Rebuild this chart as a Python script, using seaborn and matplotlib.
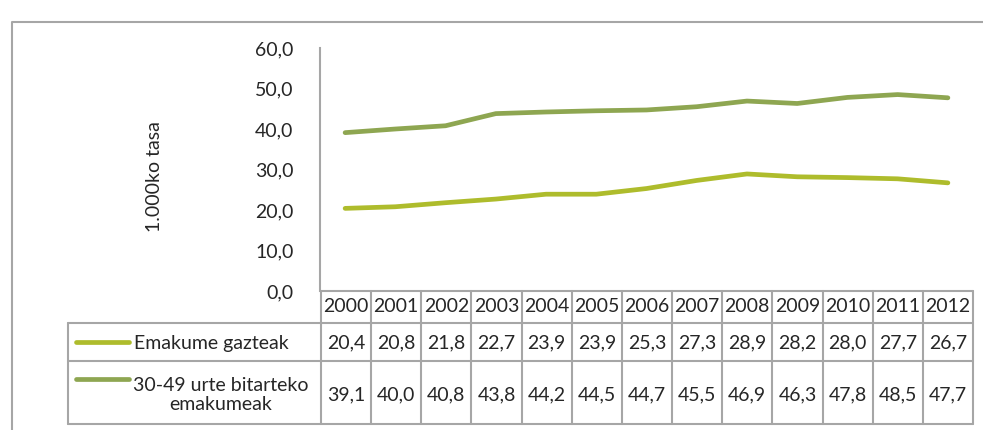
import matplotlib
matplotlib.use('Agg')
import numpy as np
import pandas as pd
import seaborn as sns
import matplotlib.pyplot as plt

# Data
years = ['2000', '2001', '2002', '2003', '2004', '2005', '2006',
         '2007', '2008', '2009', '2010', '2011', '2012']
young = [20.4, 20.8, 21.8, 22.7, 23.9, 23.9, 25.3, 27.3, 28.9, 28.2, 28.0, 27.7, 26.7]
middle = [39.1, 40.0, 40.8, 43.8, 44.2, 44.5, 44.7, 45.5, 46.9, 46.3, 47.8, 48.5, 47.7]
series_names = ['Emakume gazteak', '30-49 urte bitarteko\nemakumeak']
colors = ['#AEBC2C', '#8EA651']
y_ticks = [0, 10, 20, 30, 40, 50, 60]

sns.set_style('white')
plt.rcParams['font.family'] = ['Lato', 'DejaVu Sans']

W, H = 983, 430
fig = plt.figure(figsize=(W / 100, H / 100), dpi=100)


def px(l, t, r, b):
    return [l / W, 1 - b / H, (r - l) / W, (b - t) / H]


grey = '#A6A6A6'
fsize = 14

# main chart
ax = fig.add_axes(px(320, 48, 973, 291))
df = pd.DataFrame({'pos': np.arange(len(years)), series_names[0]: young, series_names[1]: middle})
df = df.melt(id_vars='pos', var_name='series', value_name='value')
sns.lineplot(data=df, x='pos', y='value', hue='series', palette=colors, linewidth=3.4,
             solid_capstyle='round', legend=False, ax=ax)
ax.set_xlim(-0.5, len(years) - 0.5)
ax.set_ylim(0, 60)
ax.set_yticks(y_ticks)
ax.set_yticklabels([f'{v:.1f}'.replace('.', ',') for v in y_ticks], fontsize=fsize)
ax.set_xticks([])
ax.set_xlabel('')
ax.set_ylabel('1.000ko tasa', fontsize=fsize, labelpad=0)
ax.yaxis.set_label_coords(-0.24, 0.47)
ax.tick_params(axis='y', length=0, pad=19)
for s in ['top', 'right', 'bottom']:
    ax.spines[s].set_visible(False)
ax.spines['left'].set_color(grey)
ax.spines['left'].set_linewidth(1.5)
ax.patch.set_alpha(0)

# overlay for the data table and frame
ov = fig.add_axes([0, 0, 1, 1], zorder=-1)
ov.set_xlim(0, W)
ov.set_ylim(H, 0)
ov.axis('off')

# outer frame
ov.plot([12, 12, W + 5], [H + 5, 22, 22], color=grey, lw=1.5)

edges = np.linspace(321, 973, len(years) + 1)
rows = [291, 323, 361, 424]
lw = 1.5
ov.plot([edges[0], edges[-1]], [rows[0], rows[0]], color=grey, lw=lw)
for y in rows[1:]:
    ov.plot([68, edges[-1]], [y, y], color=grey, lw=lw)
for x in edges:
    ov.plot([x, x], [rows[0], rows[-1]], color=grey, lw=lw)
ov.plot([68, 68], [rows[1], rows[-1]], color=grey, lw=lw)

centers = (edges[:-1] + edges[1:]) / 2
for i, yr in enumerate(years):
    ov.text(centers[i], 307, yr, ha='center', va='center', fontsize=fsize)
    ov.text(centers[i], 343, f'{young[i]:.1f}'.replace('.', ','), ha='center', va='center', fontsize=fsize)
    ov.text(centers[i], 395, f'{middle[i]:.1f}'.replace('.', ','), ha='center', va='center', fontsize=fsize)

# legend keys inside the table
ov.plot([76, 129], [342, 342], color=colors[0], lw=3.4, solid_capstyle='round')
ov.plot([76, 129], [379, 379], color=colors[1], lw=3.4, solid_capstyle='round')
ov.text(134, 344, series_names[0], ha='left', va='center', fontsize=fsize)
ov.text(221, 395, series_names[1], ha='center', va='center', fontsize=fsize,
        multialignment='center', linespacing=1.1)

fig.savefig('out.png', dpi=100)
